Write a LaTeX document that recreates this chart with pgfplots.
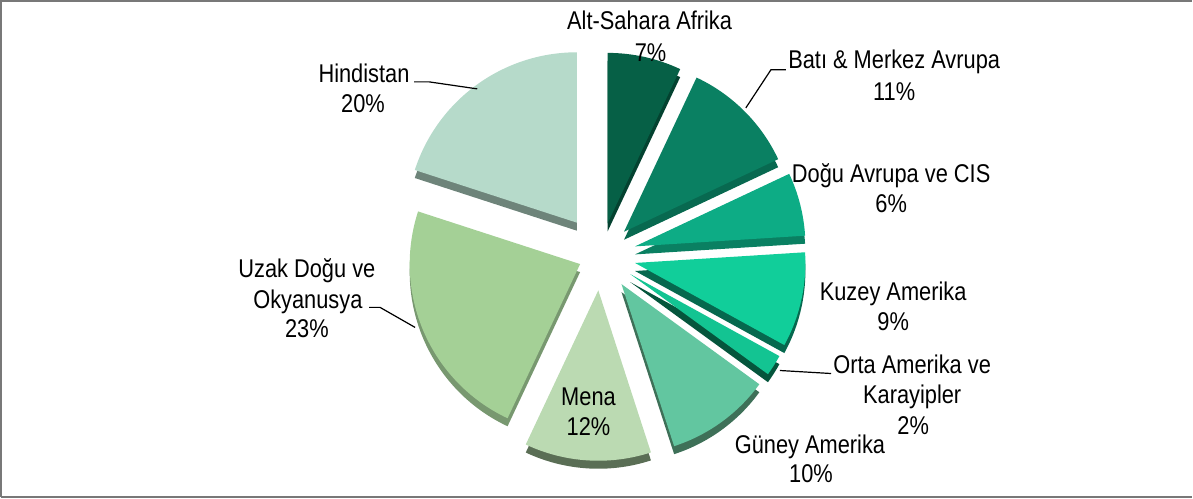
\documentclass[border=0pt]{standalone}
\usepackage{pgfplots}
\usepackage{pgfplotstable}
\pgfplotsset{compat=1.18}
\usepackage{fontspec}
\setmainfont{Liberation Sans}[FakeStretch=0.85]

\definecolor{c1}{RGB}{6,96,70}
\definecolor{c2}{RGB}{10,128,98}
\definecolor{c3}{RGB}{13,172,133}
\definecolor{c4}{RGB}{17,206,154}
\definecolor{c5}{RGB}{19,196,146}
\definecolor{c6}{RGB}{98,198,160}
\definecolor{c7}{RGB}{187,218,178}
\definecolor{c8}{RGB}{164,208,150}
\definecolor{c9}{RGB}{182,218,202}
\definecolor{s1}{RGB}{4,66,48}
\definecolor{s2}{RGB}{8,105,80}
\definecolor{s3}{RGB}{10,128,98}
\definecolor{s4}{RGB}{6,104,78}
\definecolor{s5}{RGB}{5,85,60}
\definecolor{s6}{RGB}{62,112,88}
\definecolor{s7}{RGB}{90,110,85}
\definecolor{s8}{RGB}{120,152,112}
\definecolor{s9}{RGB}{110,132,122}
\definecolor{frame}{RGB}{120,120,120}

% region value explode(px) top side
\pgfplotstableread{
region value explode top side
AltSahara 7 32.7 c1 s1
Bati 11 33.2 c2 s2
Dogu 6 35.6 c3 s3
Kuzey 9 35.3 c4 s4
Orta 2 35 c5 s5
Guney 10 35.6 c6 s6
Mena 12 35.1 c7 s7
Uzak 23 22.2 c8 s8
Hindistan 20 40.2 c9 s9
}\piedata

\tikzset{lab/.style={anchor=base, inner sep=0pt, font=\fontsize{12.8}{15}\selectfont}}

\begin{document}
\begin{tikzpicture}
\begin{axis}[
  x=0.5pt, y=0.5pt,
  xmin=0, xmax=1193, ymin=0, ymax=498,
  hide axis, clip=false, scale only axis,
]
\pgfplotsextra{
  \pgfplotstablegetrowsof{\piedata}
  \pgfmathtruncatemacro\nrows{\pgfplotsretval-1}
  % sides (depth)
  \xdef\cumul{0}
  \foreach \i in {0,...,\nrows}{
    \pgfplotstablegetelem{\i}{value}\of\piedata \let\v\pgfplotsretval
    \pgfplotstablegetelem{\i}{explode}\of\piedata \let\e\pgfplotsretval
    \pgfplotstablegetelem{\i}{side}\of\piedata \edef\sc{\pgfplotsretval}
    \pgfmathsetmacro\aone{90-3.6*\cumul}
    \pgfmathsetmacro\atwo{90-3.6*(\cumul+\v)}
    \pgfmathsetmacro\amid{(\aone+\atwo)/2}
    \pgfmathsetmacro\px{603+\e*cos(\amid)}
    \pgfmathsetmacro\py{243+\e*sin(\amid)-8}
    \fill[color=\sc] (axis cs:\px,\py) -- ++(\aone:85pt) arc[start angle=\aone, end angle=\atwo, radius=85pt] -- cycle;
    \pgfmathsetmacro\newc{\cumul+\v}
    \xdef\cumul{\newc}
  }
  % tops
  \xdef\cumul{0}
  \foreach \i in {0,...,\nrows}{
    \pgfplotstablegetelem{\i}{value}\of\piedata \let\v\pgfplotsretval
    \pgfplotstablegetelem{\i}{explode}\of\piedata \let\e\pgfplotsretval
    \pgfplotstablegetelem{\i}{top}\of\piedata \edef\tc{\pgfplotsretval}
    \pgfmathsetmacro\aone{90-3.6*\cumul}
    \pgfmathsetmacro\atwo{90-3.6*(\cumul+\v)}
    \pgfmathsetmacro\amid{(\aone+\atwo)/2}
    \pgfmathsetmacro\px{603+\e*cos(\amid)}
    \pgfmathsetmacro\py{243+\e*sin(\amid)}
    \fill[color=\tc] (axis cs:\px,\py) -- ++(\aone:85pt) arc[start angle=\aone, end angle=\atwo, radius=85pt] -- cycle;
    \pgfmathsetmacro\newc{\cumul+\v}
    \xdef\cumul{\newc}
  }
}
% frame
\draw[frame, line width=1.2pt] (axis cs:5,1.5) -- (axis cs:5,496.5) -- (axis cs:1193,496.5);
\draw[frame, line width=1.2pt] (axis cs:5,1.5) -- (axis cs:1193,1.5);
% leader lines
\draw[black, line width=0.6pt] (axis cs:788,428) -- (axis cs:773,428) -- (axis cs:748,390);
\draw[black, line width=0.6pt] (axis cs:417,416) -- (axis cs:432,416) -- (axis cs:480,409);
\draw[black, line width=0.6pt] (axis cs:372,191) -- (axis cs:383,191) -- (axis cs:418,171);
\draw[black, line width=0.6pt] (axis cs:782,128) -- (axis cs:833,125);
% labels
\node[lab] at (axis cs:652,468) {Alt-Sahara Afrika};
\node[lab] at (axis cs:653,436) {7\%};
\node[lab] at (axis cs:896,429) {Batı \& Merkez Avrupa};
\node[lab] at (axis cs:896,397) {11\%};
\node[lab] at (axis cs:893,316) {Doğu Avrupa ve CIS};
\node[lab] at (axis cs:893,286) {6\%};
\node[lab] at (axis cs:895,198) {Kuzey Amerika};
\node[lab] at (axis cs:895,168) {9\%};
\node[lab] at (axis cs:914,125) {Orta Amerika ve};
\node[lab] at (axis cs:914,95) {Karayipler};
\node[lab] at (axis cs:915,64) {2\%};
\node[lab] at (axis cs:812,45) {Güney Amerika};
\node[lab] at (axis cs:813,16) {10\%};
\node[lab] at (axis cs:591,93) {Mena};
\node[lab] at (axis cs:591,63) {12\%};
\node[lab] at (axis cs:310,221) {Uzak Doğu ve};
\node[lab] at (axis cs:311,190) {Okyanusya};
\node[lab] at (axis cs:310,161) {23\%};
\node[lab] at (axis cs:367,415) {Hindistan};
\node[lab] at (axis cs:366,385) {20\%};
\end{axis}
\end{tikzpicture}
\end{document}
